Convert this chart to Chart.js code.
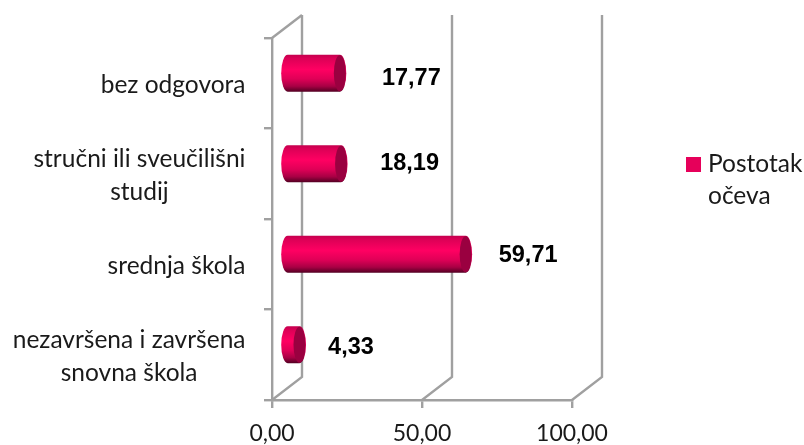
<!DOCTYPE html>
<html><head><meta charset="utf-8">
<style>html,body{margin:0;padding:0;background:#fff}#w{width:804px;height:445px}</style>
<script src="https://cdn.jsdelivr.net/npm/chart.js@4"></script></head>
<body><div id="w"><canvas id="c" width="804" height="445"></canvas></div>
<script>
const categories = [["bez odgovora"],["stručni ili sveučilišni","studij"],["srednja škola"],["nezavršena i završena","snovna škola"]];
const seriesName = ["Postotak","očeva"];
const fatherShare = [17.77,18.19,59.71,4.33];
const axisTicks = [0,50,100];
const labelShift = [[86,-5],[83,-10],[77,-8.5],[66,-7]];

const comma = v => Number(v).toFixed(2).replace('.',',');
const GRAY = '#a0a0a0', FONT = 'Lato, "Open Sans", sans-serif';
const wall = {x:30,y:-23}, barDepth = {x:14.5,y:-10}, rx = 6.5;

const frame3d = {
  id:'frame3d',
  beforeDatasetsDraw(chart){
    const {ctx,scales:{x,y}} = chart, b = y.bottom, t = y.top;
    ctx.save(); ctx.strokeStyle = GRAY; ctx.lineWidth = 2.4;
    axisTicks.forEach(v=>{
      const p = x.getPixelForValue(v);
      ctx.beginPath(); ctx.moveTo(p,b); ctx.lineTo(p+wall.x,b+wall.y); ctx.lineTo(p+wall.x,t+wall.y); ctx.stroke();
    });
    const p0 = x.getPixelForValue(0);
    ctx.beginPath(); ctx.moveTo(p0,t); ctx.lineTo(p0+wall.x,t+wall.y); ctx.stroke();
    ctx.restore();
  }
};
const cylinders = {
  id:'cylinders',
  beforeDatasetDraw(chart,args){
    const {ctx} = chart;
    args.meta.data.forEach(el=>{
      const p = el.getProps(['x','y','base','height'],true);
      const x0 = p.base+barDepth.x, x1 = p.x+barDepth.x, cy = p.y+barDepth.y, h = p.height/2;
      const g = ctx.createLinearGradient(0,cy-h,0,cy+h);
      g.addColorStop(0,'#c4004e'); g.addColorStop(.1,'#dc0056'); g.addColorStop(.4,'#ff0062');
      g.addColorStop(.65,'#e00057'); g.addColorStop(.85,'#a80044'); g.addColorStop(1,'#520022');
      ctx.save(); ctx.fillStyle = g;
      ctx.beginPath();
      ctx.ellipse(x0,cy,rx,h,0,Math.PI/2,Math.PI*1.5);
      ctx.lineTo(x1,cy-h);
      ctx.ellipse(x1,cy,rx,h,0,-Math.PI/2,Math.PI/2);
      ctx.closePath(); ctx.fill();
      ctx.fillStyle = '#9a0040';
      ctx.beginPath(); ctx.ellipse(x1,cy,rx-.5,h-.5,0,0,Math.PI*2); ctx.fill();
      ctx.restore();
    });
    return false;
  }
};
const texts = {
  id:'texts',
  afterDraw(chart){
    const {ctx,scales:{x,y}} = chart;
    ctx.save(); ctx.textBaseline = 'alphabetic'; ctx.fillStyle = '#1a1a1a';
    ctx.font = '24.5px '+FONT;
    categories.forEach((lines,i)=>{
      const cy = y.getPixelForValue(i), right = 245.5;
      const w = Math.max(...lines.map(s=>ctx.measureText(s).width));
      const cx = right-w/2, lh = 32.5;
      const y0 = cy+9.5-(lines.length-1)*lh/2;
      ctx.textAlign = 'center';
      lines.forEach((s,j)=>ctx.fillText(s,cx,y0+j*lh));
    });
    ctx.textAlign = 'left';
    ctx.fillText(seriesName[0],708,172);
    ctx.fillText(seriesName[1],708,204);
    ctx.fillStyle = '#e6005a'; ctx.fillRect(686,157,15,15);
    ctx.fillStyle = '#000'; ctx.textBaseline = 'middle'; ctx.font = 'bold 23.5px "Liberation Sans", Arial, sans-serif'; ctx.textAlign = 'center';
    fatherShare.forEach((v,i)=>{
      ctx.fillText(comma(v),x.getPixelForValue(v)+labelShift[i][0],y.getPixelForValue(i)+labelShift[i][1]);
    });
    ctx.restore();
  }
};
new Chart(document.getElementById('c'),{
  type:'bar',
  plugins:[frame3d,cylinders,texts],
  data:{labels:categories.map(l=>l.join(' ')),datasets:[{label:seriesName.join(' '),data:fatherShare,backgroundColor:'#e6005a',barThickness:37}]},
  options:{
    indexAxis:'y',responsive:false,animation:false,
    layout:{padding:{left:264,right:232,top:38,bottom:0}},
    plugins:{legend:{display:false},tooltip:{enabled:false},title:{display:false}},
    scales:{
      x:{min:0,max:100,afterFit(s){s.height=45},
        afterBuildTicks(s){s.ticks=axisTicks.map(v=>({value:v}))},
        border:{color:GRAY,width:2.4},
        grid:{drawOnChartArea:false,color:GRAY,lineWidth:2.4,tickLength:8},
        ticks:{callback:v=>comma(v),color:'#1a1a1a',font:{family:FONT,size:23},padding:12,maxRotation:0,autoSkip:false}},
      y:{afterFit(s){s.width=8},
        border:{color:GRAY,width:2.4},
        grid:{drawOnChartArea:false,color:GRAY,lineWidth:2.4,tickLength:8,offset:true},
        ticks:{display:false}}
    }
  }
});
</script></body></html>
